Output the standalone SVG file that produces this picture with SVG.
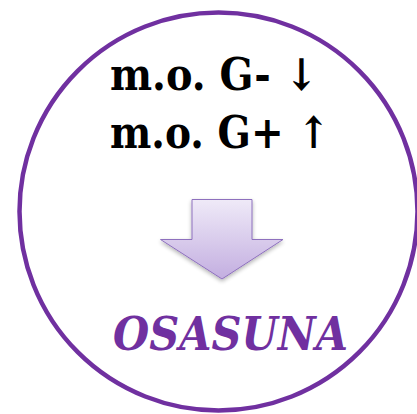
<svg xmlns="http://www.w3.org/2000/svg" width="417" height="414" viewBox="0 0 417 414">
<defs>
<linearGradient id="ag" x1="0" y1="0" x2="0" y2="1">
<stop offset="0" stop-color="#EFEAF8"/>
<stop offset="1" stop-color="#C3AEE0"/>
</linearGradient>
<filter id="sh" x="-20%" y="-20%" width="140%" height="150%">
<feGaussianBlur in="SourceAlpha" stdDeviation="2"/>
<feOffset dy="2"/>
<feComponentTransfer><feFuncA type="linear" slope="0.3"/></feComponentTransfer>
<feMerge><feMergeNode/><feMergeNode in="SourceGraphic"/></feMerge>
</filter>
<style>
.t{font-family:"DejaVu Serif","Liberation Serif",serif;font-weight:bold;font-size:44px;fill:#000}
.o{font-family:"DejaVu Serif","Liberation Serif",serif;font-weight:bold;font-style:italic;font-size:46px;fill:#7030A0}
</style>
</defs>
<rect width="417" height="414" fill="#fff"/>
<g id="circle">
<circle cx="218.5" cy="211.5" r="199" fill="#fff" stroke="#7030A0" stroke-width="4.5"/>
</g>
<g id="text1">
<text class="t" x="110" y="90" textLength="208" lengthAdjust="spacingAndGlyphs">m.o. G- ↓</text>
<text class="t" x="110" y="148" textLength="220" lengthAdjust="spacingAndGlyphs">m.o. G+ ↑</text>
</g>
<g id="arrow">
<path d="M192,199.5 H252 V239.5 H283 L222,279 L160.5,239.5 H192 Z" fill="url(#ag)" stroke="#8E70BE" stroke-width="1" filter="url(#sh)"/>
</g>
<g id="label">
<text class="o" x="113" y="350" textLength="235" lengthAdjust="spacingAndGlyphs">OSASUNA</text>
</g>
</svg>
